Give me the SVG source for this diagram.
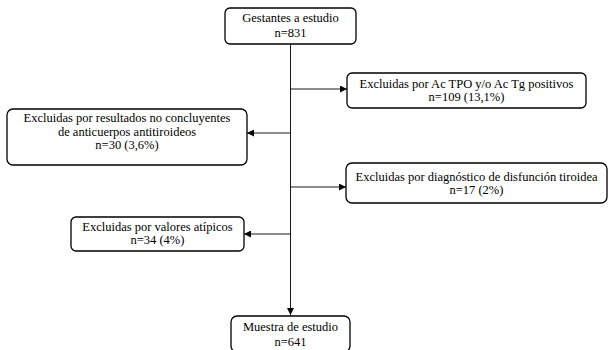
<svg xmlns="http://www.w3.org/2000/svg" width="609" height="350" viewBox="0 0 609 350">
<style>
.box{fill:#fff;stroke:#000;stroke-width:1.3}
.t{font-family:"Liberation Serif","Times New Roman",serif;font-size:12.5px;fill:#000;text-anchor:middle}
.c{stroke:#000;stroke-width:0.9;fill:none}
</style>
<defs>
<marker id="ah" viewBox="0 0 10 10" refX="10" refY="5" markerWidth="7" markerHeight="7" markerUnits="userSpaceOnUse" orient="auto">
<path d="M0,0 L10,5 L0,10 z" fill="#000"/>
</marker>
</defs>
<rect width="609" height="350" fill="#fff"/>
<g id="connectors">
<line class="c" x1="290.5" y1="44" x2="290.5" y2="315" marker-end="url(#ah)"/>
<line class="c" x1="290.5" y1="89" x2="347" y2="89" marker-end="url(#ah)"/>
<line class="c" x1="290.5" y1="133" x2="247" y2="133" marker-end="url(#ah)"/>
<line class="c" x1="290.5" y1="187" x2="346" y2="187" marker-end="url(#ah)"/>
<line class="c" x1="290.5" y1="234" x2="244" y2="234" marker-end="url(#ah)"/>
</g>
<g id="n1">
<rect class="box" x="225" y="8" width="131" height="36" rx="5"/>
<text class="t" x="290.5" y="22">Gestantes a estudio</text>
<text class="t" x="290.5" y="37">n=831</text>
</g>
<g id="n2">
<rect class="box" x="347" y="73" width="239" height="35" rx="5"/>
<text class="t" x="466.5" y="88">Excluidas por Ac TPO y/o Ac Tg positivos</text>
<text class="t" x="466.5" y="101">n=109 (13,1%)</text>
</g>
<g id="n3">
<rect class="box" x="7" y="109" width="240" height="56" rx="6"/>
<text class="t" x="127" y="122">Excluidas por resultados no concluyentes</text>
<text class="t" x="127" y="136">de anticuerpos antitiroideos</text>
<text class="t" x="127" y="149">n=30 (3,6%)</text>
</g>
<g id="n4">
<rect class="box" x="346" y="163" width="261" height="40" rx="6"/>
<text class="t" x="476.5" y="181">Excluidas por diagnóstico de disfunción tiroidea</text>
<text class="t" x="476.5" y="194">n=17 (2%)</text>
</g>
<g id="n5">
<rect class="box" x="71" y="217" width="173" height="34" rx="5"/>
<text class="t" x="157.5" y="231">Excluidas por valores atípicos</text>
<text class="t" x="157.5" y="244">n=34 (4%)</text>
</g>
<g id="n6">
<rect class="box" x="231" y="316" width="119" height="36" rx="6"/>
<text class="t" x="290.5" y="331">Muestra de estudio</text>
<text class="t" x="290.5" y="346">n=641</text>
</g>
</svg>
